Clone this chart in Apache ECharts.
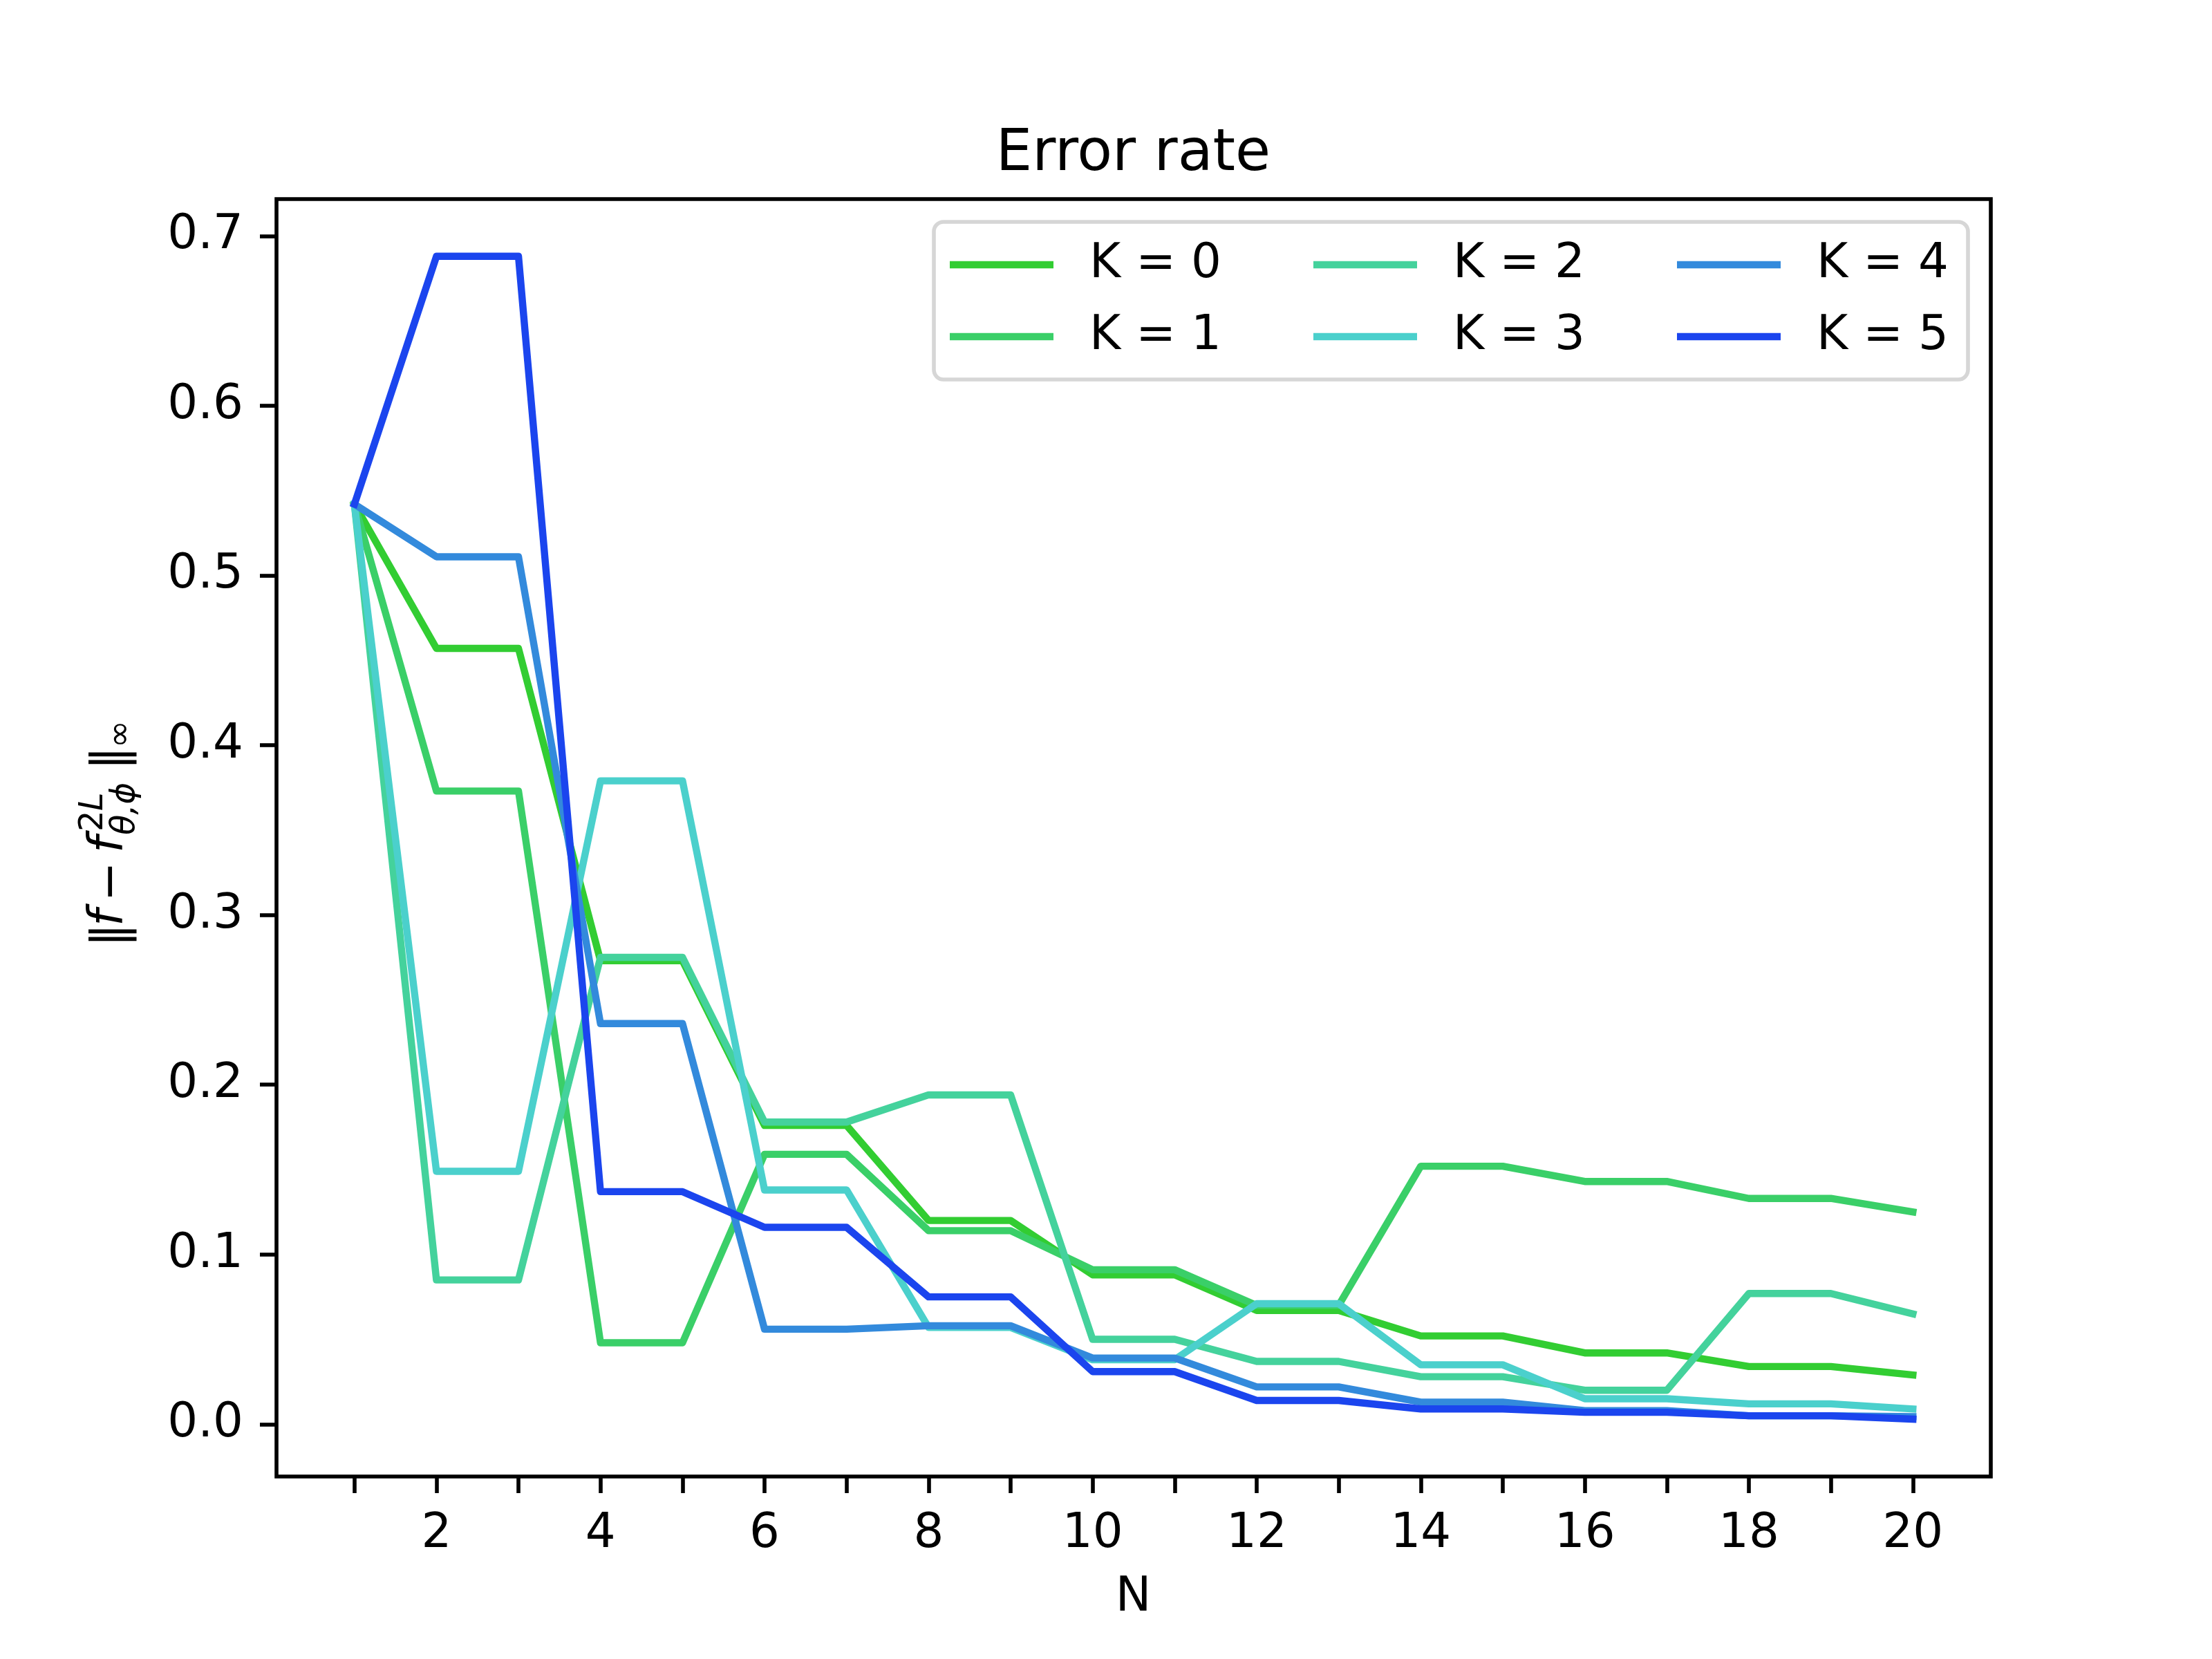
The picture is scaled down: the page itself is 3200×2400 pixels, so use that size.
<!DOCTYPE html>
<html>
<head>
<meta charset="utf-8">
<script src="https://cdn.jsdelivr.net/npm/echarts@6/dist/echarts.min.js"></script>
<style>
html,body{margin:0;padding:0;background:#fff;}
#chart{width:3200px;height:2400px;}
</style>
</head>
<body>
<div id="chart"></div>
<script>
// ---- data ----
const N = [1,2,3,4,5,6,7,8,9,10,11,12,13,14,15,16,17,18,19,20];
const seriesNames = ['K = 0','K = 1','K = 2','K = 3','K = 4','K = 5'];
const K0 = [0.542,0.457,0.457,0.273,0.273,0.176,0.176,0.120,0.120,0.088,0.088,0.067,0.067,0.052,0.052,0.042,0.042,0.034,0.034,0.029];
const K1 = [0.542,0.373,0.373,0.048,0.048,0.159,0.159,0.114,0.114,0.091,0.091,0.070,0.070,0.152,0.152,0.143,0.143,0.133,0.133,0.125];
const K2 = [0.542,0.085,0.085,0.275,0.275,0.178,0.178,0.194,0.194,0.050,0.050,0.037,0.037,0.028,0.028,0.020,0.020,0.077,0.077,0.065];
const K3 = [0.542,0.149,0.149,0.379,0.379,0.138,0.138,0.057,0.057,0.038,0.038,0.071,0.071,0.035,0.035,0.015,0.015,0.012,0.012,0.009];
const K4 = [0.542,0.511,0.511,0.236,0.236,0.056,0.056,0.058,0.058,0.039,0.039,0.022,0.022,0.013,0.013,0.008,0.008,0.005,0.005,0.0045];
const K5 = [0.542,0.688,0.688,0.137,0.137,0.116,0.116,0.075,0.075,0.031,0.031,0.014,0.014,0.009,0.009,0.007,0.007,0.005,0.005,0.003];
const seriesValues = [K0,K1,K2,K3,K4,K5];
const colors = ['#32cd32','#3acf68','#44d29c','#4bd0cc','#338adc','#1b45ee'];
const xTicks = [1,2,3,4,5,6,7,8,9,10,11,12,13,14,15,16,17,18,19,20];
const xTickLabels = [2,4,6,8,10,12,14,16,18,20];
const yTickLabels = [0.0,0.1,0.2,0.3,0.4,0.5,0.6,0.7];
const titleText = 'Error rate';
const xLabelText = 'N';

// ---- chart ----
const FONT = '"DejaVu Sans", sans-serif';
const chart = echarts.init(document.getElementById('chart'), null, {renderer:'canvas'});

const series = seriesNames.map((name,i)=>({
  name: name,
  type: 'line',
  data: N.map((n,j)=>[n, seriesValues[i][j]]),
  symbol: 'none',
  color: colors[i],
  lineStyle: {width: 10.4, color: colors[i], cap: 'square', join: 'round'},
  emphasis: {disabled: true},
  z: 2
}));

function legendBlock(names, left){
  return {
    data: names,
    orient: 'vertical',
    left: left,
    top: 348,
    padding: 0,
    z: 10,
    itemWidth: 150,
    itemHeight: 10.4,
    itemGap: 34,
    icon: 'rect',
    selectedMode: false,
    textStyle: {fontSize: 69, fontFamily: FONT, color: '#000', lineHeight: 70, padding: [0,0,0,47]}
  };
}

const mainStyle = {fontSize: 69, fontFamily: FONT, fill: '#000', verticalAlign: 'middle', align: 'left'};
function t(text, x, y, extra){
  return {type:'text', style: Object.assign({}, mainStyle, {text: text, x: x, y: y}, extra||{})};
}

const option = {
  animation: false,
  backgroundColor: '#fff',
  grid: {left: 400, right: 320, top: 288, bottom: 264, show: true, borderColor: '#000', borderWidth: 5.6, containLabel: false},
  xAxis: {
    type: 'value', min: 0.05, max: 20.95,
    axisLine: {show: false, onZero: false},
    splitLine: {show: false},
    axisTick: {show: true, inside: false, length: 24, lineStyle: {color: '#000', width: 5.6}, customValues: xTicks},
    axisLabel: {show: true, margin: 50, fontSize: 69, fontFamily: FONT, color: '#000', customValues: xTickLabels, formatter: v => String(v)}
  },
  yAxis: {
    type: 'value', min: -0.0308, max: 0.7217,
    axisLine: {show: false, onZero: false},
    splitLine: {show: false},
    axisTick: {show: true, inside: false, length: 24, lineStyle: {color: '#000', width: 5.6}, customValues: yTickLabels},
    axisLabel: {show: true, margin: 48, fontSize: 69, fontFamily: FONT, color: '#000', customValues: yTickLabels, formatter: v => v.toFixed(1)}
  },
  legend: [
    legendBlock(['K = 0','K = 1'], 1374),
    legendBlock(['K = 2','K = 3'], 1900),
    legendBlock(['K = 4','K = 5'], 2426)
  ],
  graphic: [
    {type:'rect', z: 3, shape:{x:1351, y:321, width:1496, height:228, r:14},
     style:{fill:'rgba(255,255,255,0.8)', stroke:'#d6d6d6', lineWidth:5.6}},
    {type:'text', style:{text: titleText, x:1639.5, y:224, fontSize:83, fontFamily: FONT, fill:'#000', align:'center', verticalAlign:'middle'}},
    {type:'text', style:{text: xLabelText, x:1639.5, y:2312, fontSize:69, fontFamily: FONT, fill:'#000', align:'center', verticalAlign:'middle'}},
    {type:'group', x:163, y:1210, rotation: Math.PI/2, children: [
      t('\u2016', -160, 0),
      t('f', -130, -4, {fontStyle:'italic'}),
      t('\u2212', -94, 0),
      t('f', -24, -4, {fontStyle:'italic'}),
      t('2', 7, -27, {fontSize:48}),
      t('L', 37, -27, {fontSize:48, fontStyle:'italic'}),
      t('\u03b8,\u03d5', 2, 19, {fontSize:48, fontStyle:'italic'}),
      t('\u2016', 96, 0),
      t('\u221e', 128, 13, {fontSize:48})
    ]}
  ],
  series: series
};
chart.setOption(option);
</script>
</body>
</html>
